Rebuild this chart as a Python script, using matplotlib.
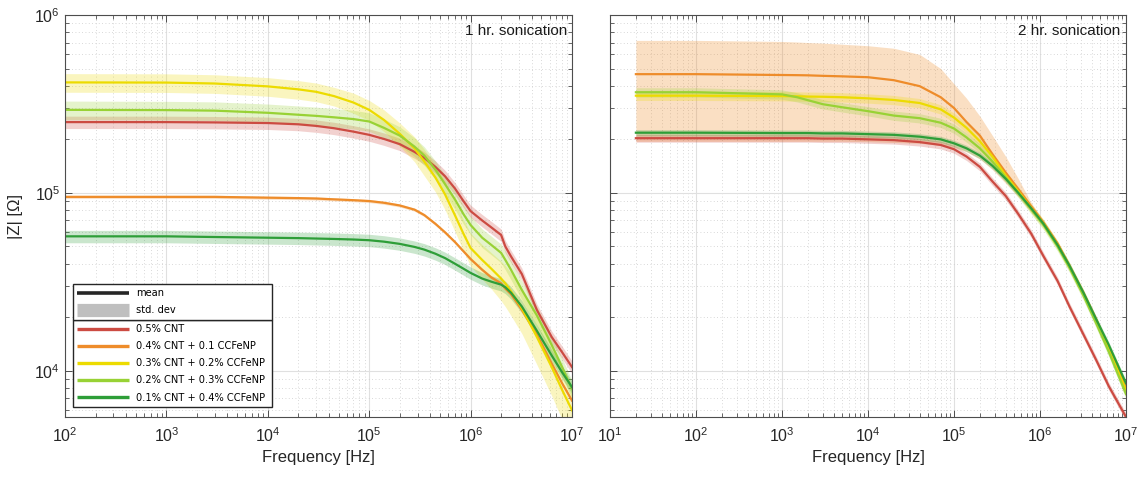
import matplotlib.pyplot as plt
from matplotlib.lines import Line2D
from matplotlib.ticker import LogLocator, NullFormatter
import numpy as np

plt.rcParams['font.family'] = ['Liberation Sans', 'DejaVu Sans']

RED = '#cc4b42'
ORANGE = '#ee8c2a'
YELLOW = '#ecdb00'
LGREEN = '#98d235'
DGREEN = '#2e9e38'

labels = ['0.5% CNT', '0.4% CNT + 0.1 CCFeNP', '0.3% CNT + 0.2% CCFeNP',
          '0.2% CNT + 0.3% CCFeNP', '0.1% CNT + 0.4% CCFeNP']
colors = [RED, ORANGE, YELLOW, LGREEN, DGREEN]

# ---- 1 hr sonication ----
freq_1hr = [1e2, 1e3, 3e3, 1e4, 2e4, 3e4, 4.5e4, 7e4, 1e5, 1.4e5, 2e5, 2.8e5, 3.5e5, 4.5e5,
            5.6e5, 7e5, 8.5e5, 1e6, 1.3e6, 1.6e6, 2e6, 2.2e6, 2.5e6, 3.2e6, 4.5e6, 6.3e6, 8e6, 1e7]
z1_red = [2.5e5, 2.5e5, 2.49e5, 2.47e5, 2.43e5, 2.38e5, 2.31e5, 2.21e5, 2.12e5, 2.01e5, 1.88e5,
          1.7e5, 1.57e5, 1.4e5, 1.24e5, 1.06e5, 9.0e4, 7.9e4, 7.0e4, 6.4e4, 5.8e4, 5.0e4, 4.4e4,
          3.5e4, 2.2e4, 1.55e4, 1.27e4, 1.05e4]
z1_orange = [9.5e4, 9.5e4, 9.5e4, 9.4e4, 9.35e4, 9.3e4, 9.2e4, 9.1e4, 9.0e4, 8.8e4, 8.5e4,
             8.05e4, 7.5e4, 6.7e4, 6.0e4, 5.3e4, 4.7e4, 4.25e4, 3.7e4, 3.35e4, 3.1e4, 2.9e4, 2.7e4,
             2.2e4, 1.6e4, 1.1e4, 8.5e3, 6.8e3]
z1_yellow = [4.18e5, 4.17e5, 4.12e5, 3.97e5, 3.82e5, 3.7e5, 3.5e5, 3.22e5, 2.93e5, 2.57e5, 2.15e5,
             1.78e5, 1.5e5, 1.22e5, 9.8e4, 7.5e4, 5.9e4, 4.9e4, 4.2e4, 3.75e4, 3.3e4, 3.1e4, 2.8e4,
             2.25e4, 1.55e4, 1.05e4, 7.8e3, 6.0e3]
z1_lgreen = [2.93e5, 2.92e5, 2.9e5, 2.82e5, 2.75e5, 2.71e5, 2.66e5, 2.6e5, 2.52e5, 2.32e5, 2.1e5,
             1.82e5, 1.62e5, 1.35e5, 1.12e5, 9.2e4, 7.6e4, 6.6e4, 5.6e4, 5.1e4, 4.6e4, 4.2e4, 3.7e4,
             2.85e4, 2.05e4, 1.4e4, 1.05e4, 7.9e3]
z1_dgreen = [5.7e4, 5.7e4, 5.65e4, 5.6e4, 5.57e4, 5.54e4, 5.51e4, 5.47e4, 5.42e4, 5.32e4, 5.17e4,
             4.97e4, 4.8e4, 4.55e4, 4.3e4, 4.0e4, 3.75e4, 3.55e4, 3.3e4, 3.17e4, 3.05e4, 2.95e4,
             2.75e4, 2.3e4, 1.68e4, 1.22e4, 9.8e3, 8.1e3]
# relative standard deviation
s1_red = 0.08
s1_orange = 0.02
s1_yellow = [0.12, 0.12, 0.12, 0.12, 0.12, 0.12, 0.12, 0.13, 0.13, 0.14, 0.15, 0.16, 0.17, 0.17,
             0.18, 0.19, 0.2, 0.21, 0.22, 0.23, 0.25, 0.26, 0.27, 0.28, 0.3, 0.31, 0.32, 0.33]
s1_lgreen = 0.12
s1_dgreen = 0.08

# ---- 2 hr sonication ----
freq_2hr = [20, 1e2, 1e3, 1.5e3, 2e3, 3e3, 5e3, 1e4, 2e4, 4e4, 7e4, 1e5, 1.4e5, 2e5, 2.8e5,
            4e5, 5.6e5, 7.9e5, 1.1e6, 1.6e6, 2.2e6, 3.2e6, 4.5e6, 6.3e6, 1e7]
z2_red = [2.03e5, 2.03e5, 2.03e5, 2.03e5, 2.03e5, 2.02e5, 2.02e5, 2.0e5, 1.98e5, 1.93e5, 1.86e5,
          1.76e5, 1.6e5, 1.4e5, 1.16e5, 9.6e4, 7.6e4, 5.9e4, 4.4e4, 3.2e4, 2.3e4, 1.6e4, 1.15e4,
          8.2e3, 5.5e3]
z2_orange = [4.65e5, 4.65e5, 4.6e5, 4.59e5, 4.58e5, 4.55e5, 4.52e5, 4.47e5, 4.3e5, 3.98e5, 3.45e5,
             3.0e5, 2.5e5, 2.1e5, 1.65e5, 1.3e5, 1.05e5, 8.4e4, 6.8e4, 5.2e4, 3.9e4, 2.75e4, 1.95e4,
             1.35e4, 8.0e3]
z2_yellow = [3.52e5, 3.52e5, 3.5e5, 3.49e5, 3.48e5, 3.47e5, 3.45e5, 3.4e5, 3.33e5, 3.2e5, 2.95e5,
             2.65e5, 2.32e5, 1.95e5, 1.6e5, 1.25e5, 1.02e5, 8.2e4, 6.7e4, 5.1e4, 3.85e4, 2.7e4, 1.9e4,
             1.32e4, 7.8e3]
z2_lgreen = [3.68e5, 3.68e5, 3.58e5, 3.45e5, 3.32e5, 3.15e5, 3.03e5, 2.88e5, 2.72e5, 2.63e5, 2.48e5,
             2.3e5, 2.05e5, 1.78e5, 1.5e5, 1.22e5, 1.0e5, 8.1e4, 6.6e4, 5.0e4, 3.8e4, 2.65e4, 1.85e4,
             1.28e4, 7.4e3]
z2_dgreen = [2.18e5, 2.18e5, 2.17e5, 2.17e5, 2.17e5, 2.16e5, 2.16e5, 2.14e5, 2.12e5, 2.07e5, 2.0e5,
             1.9e5, 1.78e5, 1.62e5, 1.42e5, 1.2e5, 1.0e5, 8.2e4, 6.7e4, 5.1e4, 3.9e4, 2.75e4, 1.95e4,
             1.4e4, 8.5e3]
s2_red = 0.05
s2_yellow = 0.06
s2_lgreen = 0.06
s2_dgreen = 0.04
# orange spread is asymmetric: explicit band edges
z2_orange_lo = [1.95e5, 1.95e5, 1.95e5, 1.95e5, 1.95e5, 1.95e5, 1.95e5, 1.94e5, 1.92e5, 1.9e5, 1.85e5,
                1.8e5, 1.7e5, 1.55e5, 1.35e5, 1.13e5, 9.5e4, 7.8e4, 6.5e4, 4.9e4, 3.75e4, 2.65e4,
                1.88e4, 1.3e4, 7.8e3]
z2_orange_hi = [7.2e5, 7.2e5, 7.1e5, 7.05e5, 7.0e5, 6.95e5, 6.85e5, 6.72e5, 6.5e5, 6.0e5, 5.0e5,
                4.1e5, 3.4e5, 2.7e5, 2.1e5, 1.6e5, 1.2e5, 8.8e4, 7.0e4, 5.3e4, 3.95e4, 2.78e4,
                1.97e4, 1.37e4, 8.1e3]


def band(mean, s):
    m = np.asarray(mean)
    s = np.asarray(s)
    return m * (1 - s), m * (1 + s)


def style_axes(ax, xlim):
    ax.set_xscale('log')
    ax.set_yscale('log')
    ax.set_xlim(*xlim)
    ax.set_ylim(5.5e3, 1e6)
    ax.xaxis.set_major_locator(LogLocator(numticks=20))
    ax.xaxis.set_minor_locator(LogLocator(subs=np.arange(2, 10), numticks=20))
    ax.yaxis.set_minor_locator(LogLocator(subs=np.arange(2, 10), numticks=20))
    ax.xaxis.set_minor_formatter(NullFormatter())
    ax.yaxis.set_minor_formatter(NullFormatter())
    ax.grid(True, which='major', color='0.88', lw=0.8, ls='-')
    ax.grid(True, which='minor', color='0.8', lw=0.6, ls=(0, (1, 3)))
    ax.set_axisbelow(True)
    ax.tick_params(which='both', direction='in', top=True, right=True,
                   color='0.3', labelcolor='0.15', labelsize=11.5)
    ax.tick_params(which='major', length=5, width=0.7)
    ax.tick_params(which='minor', length=3, width=0.6)
    ax.tick_params(axis='x', pad=7)
    for sp in ax.spines.values():
        sp.set_color('0.3')
        sp.set_linewidth(0.8)
    ax.set_xlabel('Frequency [Hz]', fontsize=12, color='0.15', labelpad=3)


W, H = 1139, 479
fig = plt.figure(figsize=(W / 100, H / 100), dpi=100)
ax1 = fig.add_axes([65 / W, 1 - 417 / H, 507 / W, 402 / H])
ax2 = fig.add_axes([610 / W, 1 - 417 / H, 516 / W, 402 / H])

# left panel
means1 = [z1_red, z1_orange, z1_yellow, z1_lgreen, z1_dgreen]
stds1 = [s1_red, s1_orange, s1_yellow, s1_lgreen, s1_dgreen]
for m, s, c in zip(means1, stds1, colors):
    lo, hi = band(m, s)
    ax1.fill_between(freq_1hr, lo, hi, color=c, alpha=0.25, lw=0)
for m, c, lab in zip(means1, colors, labels):
    ax1.plot(freq_1hr, m, color=c, lw=1.6, label=lab)

# right panel
ax2.fill_between(freq_2hr, z2_orange_lo, z2_orange_hi, color=ORANGE, alpha=0.28, lw=0)
for m, s, c in [(z2_red, s2_red, RED), (z2_yellow, s2_yellow, YELLOW),
                (z2_lgreen, s2_lgreen, LGREEN), (z2_dgreen, s2_dgreen, DGREEN)]:
    lo, hi = band(m, s)
    ax2.fill_between(freq_2hr, lo, hi, color=c, alpha=0.25, lw=0)
for m, c in zip([z2_red, z2_orange, z2_yellow, z2_lgreen, z2_dgreen], colors):
    ax2.plot(freq_2hr, m, color=c, lw=1.6)

style_axes(ax1, (1e2, 1e7))
style_axes(ax2, (1e1, 1e7))
ax2.tick_params(labelleft=False)
ax1.set_ylabel('|Z| [\u03a9]', fontsize=12, color='0.15', labelpad=8)

ax1.text(0.99, 0.96, '1 hr. sonication', transform=ax1.transAxes,
         ha='right', va='center', fontsize=11, color='0.1')
ax2.text(0.988, 0.96, '2 hr. sonication', transform=ax2.transAxes,
         ha='right', va='center', fontsize=11, color='0.1')

# legends: series box at bottom, mean/std box stacked on top
leg_kw = dict(prop={'family': 'DejaVu Sans', 'size': 7.1}, mode='expand',
              handlelength=5.2, handletextpad=0.75, borderpad=0.45,
              labelspacing=0.72, borderaxespad=0, fancybox=False,
              framealpha=1, edgecolor='0.15')
series_handles = [Line2D([], [], color=c, lw=2.4, solid_capstyle='butt') for c in colors]
leg2 = ax1.legend(series_handles, labels, loc='lower left',
                  bbox_to_anchor=(0.0158, 0.025, 0.3925, 0.0), **leg_kw)
leg2.get_frame().set_linewidth(1.0)
ax1.add_artist(leg2)
fig.canvas.draw()
bb = leg2.get_window_extent().transformed(ax1.transAxes.inverted())
stat_handles = [Line2D([], [], color='0.15', lw=2.6, solid_capstyle='butt'),
                Line2D([], [], color='0.75', lw=9.5, solid_capstyle='butt')]
leg1 = ax1.legend(stat_handles, ['mean', 'std. dev'], loc='lower left',
                  bbox_to_anchor=(0.0158, bb.y1, 0.3925, 0.0), **leg_kw)
leg1.get_frame().set_linewidth(1.0)

fig.savefig('out.png', dpi=100)
